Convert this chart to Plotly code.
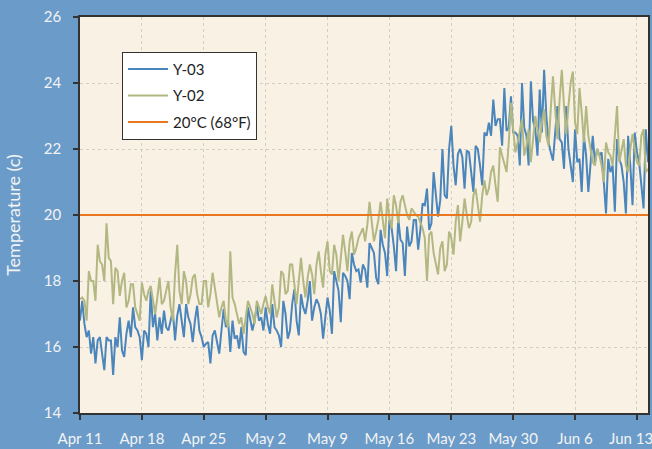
import pandas as pd
import plotly.graph_objects as go

# ---- data (6-hourly readings) ----
start_time = "2014-04-11 00:00"
step = "6h"

y03 = [
    16.8, 17.4, 16.7, 16.3, 16.5, 15.8, 16.3, 15.5, 16.2, 16.3,
    15.8, 15.3, 16.3, 16.2, 16.2, 15.15, 16.3, 16.0, 16.9, 15.9,
    15.7, 16.4, 16.8, 16.3, 17.2, 16.6, 16.5, 16.3, 15.6, 16.5,
    16.4, 16.0, 17.7, 16.6, 17.0, 16.2, 16.9, 16.4, 17.1, 16.6,
    16.5, 16.8, 17.1, 16.2, 16.95, 17.3, 16.7, 16.3, 17.3, 16.9,
    16.7, 16.15, 16.8, 17.25, 16.5, 16.3, 16.0, 16.1, 16.15, 15.5,
    16.35, 16.5, 16.15, 15.8, 16.5, 17.15, 16.6, 16.8, 15.85, 16.8,
    16.25, 16.35, 15.95, 16.6, 15.85, 15.75, 17.2, 16.8, 16.5, 16.8,
    17.25, 16.8, 16.9, 16.5, 17.2, 16.7, 16.4, 17.3, 16.6, 16.5,
    16.35, 16.0, 17.4, 17.0, 16.25, 16.5, 17.3, 17.75, 16.8, 16.35,
    17.6, 17.2, 17.0, 17.4, 18.0, 16.8, 17.2, 17.45, 17.3, 17.0,
    16.25, 16.9, 17.5, 17.1, 16.4, 18.3, 18.0, 17.7, 16.75, 18.25,
    18.15, 18.0, 17.45, 18.85, 18.5, 18.3, 18.35, 17.95, 18.5, 18.35,
    17.8, 19.15, 19.0, 18.85, 18.1, 17.9, 19.55, 19.1, 18.85, 18.15,
    19.85, 19.6, 19.05, 18.3, 19.9, 19.25, 19.15, 18.15, 19.65, 19.05,
    19.2, 19.85, 19.85, 18.95, 19.55, 20.35, 20.3, 20.8, 19.55, 19.75,
    21.3, 20.65, 19.95, 20.45, 22.0, 20.6, 20.5, 22.0, 22.7, 21.5,
    20.9, 21.85, 22.0, 21.75, 20.8, 21.95, 21.9, 21.3, 20.7, 22.1,
    22.0, 21.5, 20.9, 22.5, 22.4, 22.8, 22.4, 23.5, 22.7, 22.9,
    22.9, 22.1, 23.85, 22.55, 22.65, 23.6, 22.5, 22.5, 22.4, 21.5,
    24.0, 22.65, 22.4, 21.5, 24.05, 22.85, 22.6, 21.8, 23.8, 22.5,
    24.4, 23.0, 22.2, 21.9, 21.65, 22.5, 23.3, 22.3, 22.2, 21.4,
    23.3, 22.0, 21.5, 21.0, 22.6, 21.6, 21.7, 20.7, 22.4, 21.8,
    20.7, 21.5, 22.4, 21.6, 22.0, 21.8, 21.9, 21.0, 20.05, 21.7,
    21.3, 21.5, 20.1, 22.3, 21.7, 21.5, 21.0, 20.05, 22.4, 21.5,
    20.3, 22.5, 21.9, 21.6, 20.9, 20.2, 22.6, 21.6,
]

y02 = [
    17.45, 17.5, 17.4, 16.8, 18.3, 18.0, 18.0, 17.4, 19.1, 18.6,
    18.5, 18.0, 19.75, 18.7, 18.6, 17.3, 18.4, 18.3, 17.55, 18.0,
    18.25, 17.2, 17.4, 17.9, 17.9, 17.2, 17.0, 16.8, 17.95, 17.6,
    17.4, 17.7, 17.85, 17.4, 17.0, 17.5, 18.1, 17.3, 17.4, 17.7,
    18.0, 17.2, 16.8, 18.2, 19.1, 17.7, 17.3, 18.3, 18.0, 17.3,
    17.6, 18.1, 18.2, 17.6, 17.3, 17.3, 18.0, 18.0, 17.2, 17.6,
    18.25, 17.8, 17.3, 16.9, 17.2, 17.4, 16.8, 16.6, 18.9, 17.5,
    17.3, 17.0, 16.7, 16.9, 16.4, 16.9, 17.4, 17.2, 17.0, 16.7,
    17.4, 17.2, 17.0, 17.3, 17.55, 17.2, 17.0, 17.9, 17.4, 16.9,
    17.2, 18.3, 18.2, 17.6, 17.7, 18.5, 18.5, 17.8, 17.3, 18.0,
    18.7, 18.0, 17.5, 18.1, 18.5, 18.2, 17.6, 18.5, 18.9, 18.3,
    17.8, 18.8, 19.2, 18.3, 18.2, 19.1, 18.8, 18.0, 18.6, 19.4,
    18.9, 18.3, 19.2, 19.5, 18.8, 19.0, 19.3, 19.45, 19.6, 19.2,
    19.7, 20.4, 19.7, 19.2, 19.5, 19.85, 20.4, 19.8, 19.3, 20.5,
    19.9, 19.6, 20.6, 20.3, 19.75, 20.4, 20.6, 20.3, 20.0, 19.85,
    20.2, 20.1, 20.0, 19.95, 19.8, 19.6, 19.3, 18.0, 19.4, 19.5,
    18.85, 18.5, 18.2, 19.0, 19.2, 18.3, 18.5, 19.5, 19.3, 18.8,
    19.8, 20.3, 19.2, 19.8, 20.5, 20.0, 19.6, 19.8, 20.6, 20.8,
    20.2, 19.8, 20.6, 21.05, 20.6, 20.8, 21.3, 21.5, 20.9, 20.4,
    22.05, 21.8, 21.5, 21.3, 22.2, 23.4, 22.6, 21.9, 22.2, 22.6,
    22.9, 21.8, 22.1, 22.6, 21.6, 22.3, 23.0, 22.6, 22.2, 22.8,
    23.2, 22.4, 22.1, 23.2, 24.2, 23.2, 22.3, 23.5, 24.4, 23.3,
    22.45, 23.3, 24.0, 24.35, 22.8, 22.45, 23.85, 23.1, 22.2, 23.3,
    22.4, 22.0, 21.6, 21.5, 22.0, 21.8, 21.5, 21.0, 22.2, 21.9,
    21.8, 21.5, 22.4, 23.3, 21.6, 21.9, 22.3, 21.5, 21.3, 22.0,
    22.45, 22.0, 21.6, 21.5, 22.4, 22.6, 21.3, 21.4,
]

threshold_c = 20
series_names = ["Y-03", "Y-02", "20°C (68°F)"]
tick_dates = ["2014-04-11", "2014-04-18", "2014-04-25", "2014-05-02", "2014-05-09",
              "2014-05-16", "2014-05-23", "2014-05-30", "2014-06-06", "2014-06-13"]
tick_labels = ["Apr 11", "Apr 18", "Apr 25", "May 2", "May 9",
               "May 16", "May 23", "May 30", "Jun 6", "Jun 13"]
y_ticks = [14, 16, 18, 20, 22, 24, 26]

# ---- figure ----
times = pd.date_range(start=start_time, periods=len(y03), freq=step)

BLUE = "#4a85bb"
OLIVE = "#b2b882"
ORANGE = "#e8771f"
AXIS = "#333333"
LABEL = "#f3f3f3"
PAPER = "#6a9bc9"

fig = go.Figure()
fig.add_trace(go.Scatter(x=times, y=y03, mode="lines", name=series_names[0],
                         legendgroup="a", line=dict(color=BLUE, width=2)))
fig.add_trace(go.Scatter(x=times, y=y02, mode="lines", name=series_names[1],
                         legendgroup="b", line=dict(color=OLIVE, width=2)))
fig.add_trace(go.Scatter(x=[times[0], times[-1]], y=[threshold_c, threshold_c],
                         mode="lines", name=series_names[2], legendgroup="c",
                         line=dict(color=ORANGE, width=2)))

# the last date label sits at the right edge: draw it nudged left so it stays visible
axis_labels = tick_labels[:-1] + [""]
fig.add_annotation(x=tick_dates[-1], y=0, xref="x", yref="paper",
                   text=tick_labels[-1], showarrow=False,
                   xanchor="center", yanchor="middle", xshift=-6, yshift=-25,
                   font=dict(family="Lato", size=15, color=LABEL))

fig.update_layout(
    width=652, height=449, autosize=False,
    paper_bgcolor=PAPER,
    plot_bgcolor="#faf1e5",
    margin=dict(l=80, r=4, t=17, b=36),
    font=dict(family="Lato", color=LABEL, size=15),
    showlegend=True,
    legend=dict(
        x=0.074, y=0.912, xanchor="left", yanchor="top",
        bgcolor="#ffffff", bordercolor=AXIS, borderwidth=1,
        font=dict(family="Lato", size=15, color="#222222"),
        itemwidth=40, tracegroupgap=4,
    ),
)

fig.update_xaxes(
    type="date",
    range=[times[0], times[-1]],
    tickvals=tick_dates,
    ticktext=axis_labels,
    ticks="outside", ticklen=5, tickwidth=1.5, tickcolor=AXIS,
    showline=True, linecolor=AXIS, linewidth=1.5, mirror=True,
    showgrid=True, gridcolor="#d3cec6", griddash="dot", gridwidth=1,
    tickfont=dict(size=15, color=LABEL),
    ticklabelstandoff=6,
    automargin=False,
    zeroline=False,
)
fig.update_yaxes(
    range=[14, 26],
    tickvals=y_ticks,
    ticks="outside", ticklen=5, tickwidth=1.5, tickcolor=AXIS,
    showline=True, linecolor=AXIS, linewidth=1.5, mirror=True,
    showgrid=True, gridcolor="#d3cec6", griddash="dot", gridwidth=1,
    tickfont=dict(size=15, color=LABEL),
    ticklabelstandoff=9,
    title=dict(text="Temperature (c)", font=dict(size=18, color=LABEL), standoff=19),
    automargin=False,
    zeroline=False,
)

fig.write_html(
    "out.html",
    config={"displayModeBar": False},
    post_script="document.body.style.margin='0';document.body.style.background='" + PAPER + "';",
)
